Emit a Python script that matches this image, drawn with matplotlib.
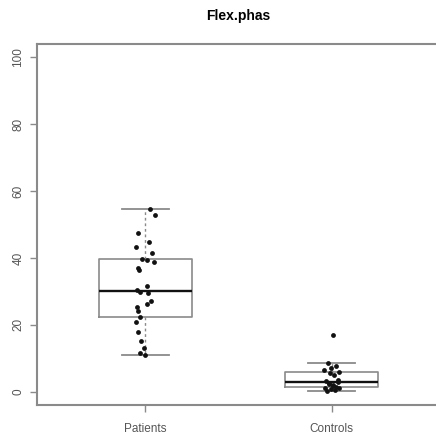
#!/usr/bin/env python3
"""Boxplot with jittered points: Flex.phas, patients vs controls."""
import matplotlib.pyplot as plt
import numpy as np

plt.rcParams['font.family'] = ['Liberation Sans', 'DejaVu Sans']

groups = ['Patients', 'Controls']

# values, with the horizontal jitter (in category units) of each dot
patients = [11.0, 11.5, 13.0, 15.0, 17.7, 20.7, 22.2, 24.0, 25.2, 26.1, 27.0, 29.6, 29.9,
            30.3, 31.5, 36.3, 36.9, 38.7, 39.3, 39.6, 41.4, 43.2, 44.7, 47.4, 52.9, 54.6]
patients_jit = [0.0, -0.027, -0.005, -0.022, -0.038, -0.048, -0.027, -0.038, -0.043, 0.011,
                0.032, 0.016, -0.027, -0.043, 0.011, -0.032, -0.038, 0.048, 0.011, -0.016,
                0.038, -0.048, 0.022, -0.038, 0.054, 0.027]

controls = [0.3, 0.6, 0.9, 1.0, 1.2, 1.5, 1.8, 2.1, 2.4, 2.7, 3.0, 3.3, 3.6, 5.1, 5.7,
            6.0, 6.6, 7.2, 7.8, 8.7, 16.8]
controls_jit = [-0.027, 0.016, -0.005, 0.038, -0.038, 0.022, 0.005, 0.005, -0.016, -0.016,
                0.032, -0.032, 0.032, 0.011, -0.011, 0.038, -0.043, -0.005, 0.022, -0.022, 0.005]

yticks = [0, 20, 40, 60, 80, 100]


def tukey_stats(vals, label):
    # R-style fivenum hinges + 1.5 IQR whiskers
    x = np.sort(np.asarray(vals))
    n = len(x)
    n4 = np.floor((n + 3) / 2) / 2
    d = np.array([1, n4, (n + 1) / 2, n + 1 - n4, n]) - 1
    fn = 0.5 * (x[np.floor(d).astype(int)] + x[np.ceil(d).astype(int)])
    iqr = fn[3] - fn[1]
    inside = x[(x >= fn[1] - 1.5 * iqr) & (x <= fn[3] + 1.5 * iqr)]
    return dict(label=label, med=fn[2], q1=fn[1], q3=fn[3],
                whislo=inside.min(), whishi=inside.max(), fliers=[])


fig = plt.figure(figsize=(4.36, 4.36), dpi=100)
ax = fig.add_axes([37 / 436, 31 / 436, 403 / 436, 361 / 436])

frame = '#8a8a8a'
stats = [tukey_stats(patients, groups[0]), tukey_stats(controls, groups[1])]
ax.bxp(stats, positions=[1, 2], widths=0.5, showfliers=False,
       boxprops=dict(color=frame, linewidth=1.2),
       medianprops=dict(color='#111111', linewidth=1.7),
       whiskerprops=dict(color=frame, linewidth=1.0, linestyle=(0, (2, 2))),
       capprops=dict(color=frame, linewidth=1.3), capwidths=0.25)

ax.scatter(1 + np.array(patients_jit), patients, s=12, color='#111111', zorder=3, linewidths=0)
ax.scatter(2 + np.array(controls_jit), controls, s=12, color='#111111', zorder=3, linewidths=0)

ax.set_xlim(0.42, 2.58)
ax.set_ylim(-4, 104)
ax.set_xticks([1, 2])
ax.set_xticklabels(groups, fontsize=8.5, color='#555555')
ax.set_yticks(yticks)
ax.set_yticklabels([str(t) for t in yticks], rotation=90, va='center',
                   fontsize=8.5, color='#555555')
ax.tick_params(axis='both', length=5, width=1.0, color=frame)
ax.tick_params(axis='x', pad=8)
ax.tick_params(axis='y', pad=4)
for sp in ax.spines.values():
    sp.set_color(frame)
    sp.set_linewidth(1.5)

ax.set_title('Flex.phas', fontsize=10, fontweight='bold', pad=17)

fig.savefig('out.png', dpi=100)
